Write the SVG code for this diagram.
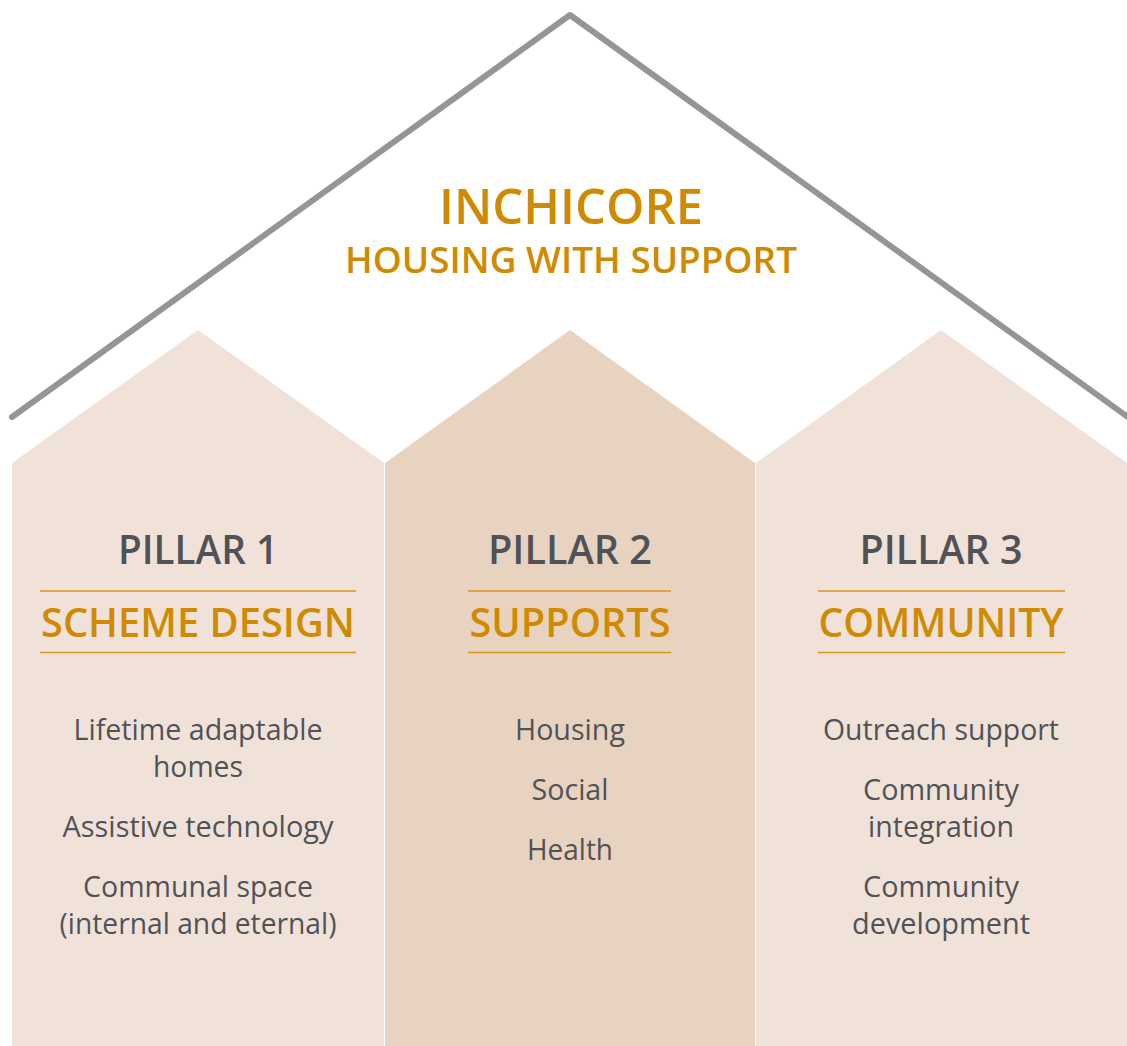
<svg xmlns="http://www.w3.org/2000/svg" width="1127" height="1046" viewBox="0 0 1127 1046">
<style>
.t{font-family:"Open Sans","Liberation Sans",sans-serif;text-anchor:middle}
.head{font-weight:600;fill:#d08a00}
.pil{font-weight:600;fill:#515258;font-size:40px}
.sub{font-weight:600;fill:#d08a00;font-size:40px}
.body{fill:#515258;font-size:29px}
.rule{stroke:#d8951c;stroke-width:1.3}
.light{fill:#f0e2d8}
.mid{fill:#e8d3c1}
</style>
<rect width="1127" height="1046" fill="#ffffff"/>
<g id="roof">
<polyline points="12,417 570,15 1132,420" fill="none" stroke="#949599" stroke-width="6" stroke-linecap="round" stroke-linejoin="round"/>
</g>
<g id="title">
<text class="t head" x="571" y="224" font-size="49" textLength="264" lengthAdjust="spacingAndGlyphs">INCHICORE</text>
<text class="t head" x="571" y="273" font-size="36" textLength="452" lengthAdjust="spacingAndGlyphs">HOUSING WITH SUPPORT</text>
</g>
<g id="pillar1">
<polygon class="light" points="12,463 198,330 384,463 384,1046 12,1046"/>
<text class="t pil" x="198" y="564" textLength="160" lengthAdjust="spacingAndGlyphs">PILLAR 1</text>
<line class="rule" x1="40" y1="591" x2="356" y2="591"/>
<text class="t sub" x="198" y="637" textLength="314" lengthAdjust="spacingAndGlyphs">SCHEME DESIGN</text>
<line class="rule" x1="40" y1="652.5" x2="356" y2="652.5"/>
<text class="t body" x="198" y="740" textLength="249" lengthAdjust="spacingAndGlyphs">Lifetime adaptable</text>
<text class="t body" x="198" y="777" textLength="90" lengthAdjust="spacingAndGlyphs">homes</text>
<text class="t body" x="198" y="837" textLength="271" lengthAdjust="spacingAndGlyphs">Assistive technology</text>
<text class="t body" x="198" y="897" textLength="230" lengthAdjust="spacingAndGlyphs">Communal space</text>
<text class="t body" x="198" y="934" textLength="277" lengthAdjust="spacingAndGlyphs">(internal and eternal)</text>
</g>
<g id="pillar2">
<polygon class="mid" points="385,463 570,330 755,463 755,1046 385,1046"/>
<text class="t pil" x="570" y="564" textLength="164" lengthAdjust="spacingAndGlyphs">PILLAR 2</text>
<line class="rule" x1="468" y1="591" x2="671" y2="591"/>
<text class="t sub" x="570" y="637" textLength="201" lengthAdjust="spacingAndGlyphs">SUPPORTS</text>
<line class="rule" x1="468" y1="652.5" x2="671" y2="652.5"/>
<text class="t body" x="570" y="740" textLength="110" lengthAdjust="spacingAndGlyphs">Housing</text>
<text class="t body" x="570" y="800" textLength="77" lengthAdjust="spacingAndGlyphs">Social</text>
<text class="t body" x="570" y="860" textLength="86" lengthAdjust="spacingAndGlyphs">Health</text>
</g>
<g id="pillar3">
<polygon class="light" points="756,463 941,330 1127,463 1127,1046 756,1046"/>
<text class="t pil" x="941" y="564" textLength="163" lengthAdjust="spacingAndGlyphs">PILLAR 3</text>
<line class="rule" x1="818" y1="591" x2="1065" y2="591"/>
<text class="t sub" x="941" y="637" textLength="245" lengthAdjust="spacingAndGlyphs">COMMUNITY</text>
<line class="rule" x1="818" y1="652.5" x2="1065" y2="652.5"/>
<text class="t body" x="941" y="740" textLength="236" lengthAdjust="spacingAndGlyphs">Outreach support</text>
<text class="t body" x="941" y="800" textLength="156" lengthAdjust="spacingAndGlyphs">Community</text>
<text class="t body" x="941" y="837" textLength="146" lengthAdjust="spacingAndGlyphs">integration</text>
<text class="t body" x="941" y="897" textLength="156" lengthAdjust="spacingAndGlyphs">Community</text>
<text class="t body" x="941" y="934" textLength="178" lengthAdjust="spacingAndGlyphs">development</text>
</g>
</svg>
